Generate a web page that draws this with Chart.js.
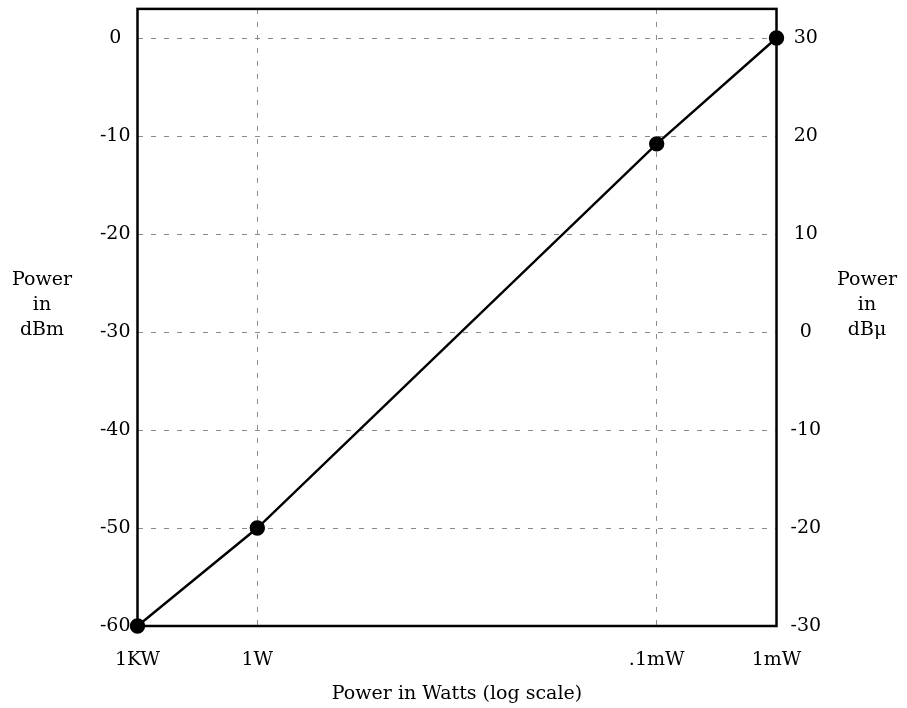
<!DOCTYPE html>
<html>
<head>
<meta charset="utf-8">
<script src="https://cdn.jsdelivr.net/npm/chart.js@4/dist/chart.umd.min.js"></script>
<style>
  html, body { margin: 0; padding: 0; background: #fff; }
  #wrap { width: 907px; height: 708px; }
</style>
</head>
<body>
<div id="wrap"><canvas id="c" width="907" height="708"></canvas></div>
<script>
// ---- data ----
const xLabels = ['1KW', '1W', '.1mW', '1mW'];
const xTickValues = [0, 3, 13, 16];
const powerDbm = [-60, -50, -10.8, 0];
const leftTicks = [-60, -50, -40, -30, -20, -10, 0];
const rightTicks = [-30, -20, -10, 0, 10, 20, 30];
const leftTitle = ['Power', 'in', 'dBm'];
const rightTitle = ['Power', 'in', 'dBμ'];
const xTitle = 'Power in Watts (log scale)';

const FONT = 'DejaVu Serif';
const FONT_SIZE = 19;
const fontSpec = { family: FONT, size: FONT_SIZE };

const points = xTickValues.map((x, i) => ({ x: x, y: powerDbm[i] }));

const noPad = s => { s.paddingTop = 0; s.paddingBottom = 0; s.paddingLeft = 0; s.paddingRight = 0; };

const framePlugin = {
  id: 'frame',
  beforeDatasetsDraw(chart) {
    const a = chart.chartArea;
    const ctx = chart.ctx;
    ctx.save();
    ctx.strokeStyle = '#000';
    ctx.lineWidth = 2.5;
    ctx.strokeRect(a.left, a.top, a.right - a.left, a.bottom - a.top);
    ctx.restore();
  },
  afterDraw(chart) {
    const ctx = chart.ctx;
    const a = chart.chartArea;
    ctx.save();
    ctx.fillStyle = '#000';
    ctx.font = FONT_SIZE + 'px "' + FONT + '"';
    ctx.textAlign = 'center';
    ctx.textBaseline = 'middle';
    const midY = 305;
    const lh = 25;
    leftTitle.forEach((t, i) => ctx.fillText(t, 42, midY + (i - 1) * lh));
    rightTitle.forEach((t, i) => ctx.fillText(t, 867, midY + (i - 1) * lh));
    ctx.fillText(xTitle, (a.left + a.right) / 2, 694);
    ctx.restore();
  }
};

new Chart(document.getElementById('c'), {
  type: 'line',
  data: {
    datasets: [{
      data: points,
      borderColor: '#000',
      backgroundColor: '#000',
      borderWidth: 2.4,
      pointRadius: 6.5,
      pointHoverRadius: 6.5,
      pointBackgroundColor: '#000',
      pointBorderColor: '#000',
      tension: 0,
      fill: false,
      clip: false,
      yAxisID: 'y'
    }]
  },
  options: {
    responsive: false,
    animation: false,
    devicePixelRatio: 1,
    layout: { padding: { top: 7.5, left: 0, right: 0, bottom: 0 } },
    plugins: { legend: { display: false }, tooltip: { enabled: false }, title: { display: false } },
    scales: {
      x: {
        type: 'linear',
        min: 0,
        max: 16,
        afterBuildTicks: s => { s.ticks = xTickValues.map(v => ({ value: v })); },
        afterFit: s => { s.height = 82; noPad(s); },
        ticks: {
          font: fontSpec,
          color: '#000',
          padding: 23,
          maxRotation: 0,
          autoSkip: false,
          callback: (v) => { const i = xTickValues.indexOf(v); return i >= 0 ? xLabels[i] : ''; }
        },
        grid: { color: '#8a8a8a', lineWidth: 1, drawTicks: false },
        border: { display: false, dash: [5, 8] }
      },
      y: {
        type: 'linear',
        position: 'left',
        min: -60,
        max: 2.97,
        afterBuildTicks: s => { s.ticks = leftTicks.map(v => ({ value: v })); },
        afterFit: s => { s.width = 137.5; noPad(s); },
        ticks: { font: fontSpec, color: '#000', padding: 7, crossAlign: 'center', autoSkip: false },
        grid: { color: '#8a8a8a', lineWidth: 1, drawTicks: false },
        border: { display: false, dash: [5, 8] }
      },
      y2: {
        type: 'linear',
        position: 'right',
        min: -30,
        max: 32.97,
        afterBuildTicks: s => { s.ticks = rightTicks.map(v => ({ value: v })); },
        afterFit: s => { s.width = 130.5; noPad(s); },
        ticks: { font: fontSpec, color: '#000', padding: 14, crossAlign: 'center', autoSkip: false },
        grid: { display: false, drawTicks: false },
        border: { display: false }
      }
    }
  },
  plugins: [framePlugin]
});
</script>
</body>
</html>
